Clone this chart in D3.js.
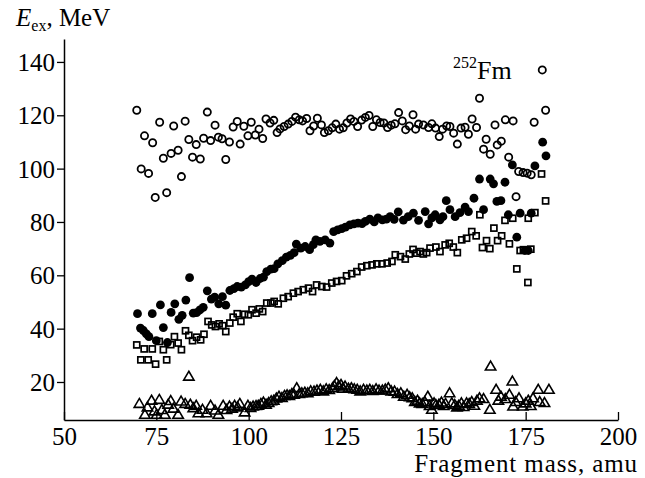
<!DOCTYPE html>
<html>
<head>
<meta charset="utf-8">
<script src="https://cdn.jsdelivr.net/npm/d3@7/dist/d3.min.js"></script>
<style>
  body { margin: 0; background: #fff; }
  svg text { font-family: "Liberation Serif", "DejaVu Serif", serif; fill: #000; }
</style>
</head>
<body>
<div id="chart"></div>
<script>
// open circles
var circMass = [69.7,70.9,71.8,72.9,74,74.7,75.9,76.9,77.8,79,79.7,80.9,81.8,82.8,83.8,84.8,85.8,86.9,87.8,88.8,
  89.7,90.9,91.8,92.8,93.8,94.8,95.8,96.9,97.7,98.7,99.8,100.7,101.8,102.8,103.8,104.7,105.8,106.8,107.7,108.5,
  109.6,110.7,111.7,112.7,113.7,114.6,115.7,116.6,117.6,118.6,119.7,120.5,121.6,122.6,123.6,124.6,125.6,126.6,127.6,128.5,
  129.5,130.6,131.6,132.6,133.6,134.6,135.6,136.6,137.6,138.6,139.6,140.6,141.6,142.5,143.5,144.5,145.2,146,147.3,148.7,
  149.6,150.6,151.6,152.5,153.6,154.5,155.5,156.5,157.5,158.6,159.5,160.5,161.7,162.5,163.6,164.3,165.4,166.7,167.3,168.4,
  169.5,170.4,171.6,172.4,173.1,174.3,175.4,176.5,177.3,179.5,180.4];
var circE = [121.9,99.9,112.3,98.2,109.7,89.2,117.4,103.9,91,105.7,116,106.9,97,117.8,110.9,104.3,109,103.6,111.4,121.2,
  110.5,116.3,111.8,111.2,103.4,110,115.6,117.7,109.2,115.9,112.3,117.4,112.6,114.8,111.3,118.6,117.1,118.1,113.5,114.9,
  115.8,116.7,117.7,119.3,118.3,117.9,118.8,114.2,116,118.9,116.4,113.5,114.2,115.3,116.7,114.8,115.3,117.1,118.6,117.7,
  115.8,118.2,119.2,119.9,115.8,118.3,117.3,117.1,115.4,116.3,116.8,121,117.9,114.6,116,120.2,114.8,116.7,116.4,115.4,
  116.8,115.2,112,114.8,116,115.8,113.3,109.2,115.2,115.5,112.9,118.6,115.4,126.4,107.3,111,105.4,116.4,108.9,110.3,
  118.3,104.3,117.9,89.5,98.9,98.5,98.3,97.7,117.4,137,121.9];

// filled circles
var dotMass = [69.9,70.7,71.5,72.3,73,73.9,75,76.1,76.9,78,79,80,81.1,82,83,84,85,85.9,86.8,87.7,
  88.8,89.9,90.8,91.9,92.9,93.8,94.9,96,96.9,98,99.1,100,100.9,102,103.1,104,104.9,106,106.9,107.9,
  109.1,110.2,111.3,112.3,112.9,114.1,115.3,116.5,117.5,118.2,119.3,120.7,122,123,124.1,125.2,126.2,127.4,128.5,129.6,
  130.7,131.6,132.8,134,135,136.2,137.3,138.3,139.4,140.5,141.9,143.2,144.6,146,147.8,148.7,149.6,150.5,151.8,152.6,
  153.5,154.5,155.9,157.2,158.6,159.5,161,162.5,163.6,165.4,166.3,167.2,168.3,169.4,170.3,171.4,172.6,173.5,174.8,175.7,
  176.5,177.5,179.6,180.5];
var dotE = [45.6,40.2,39.3,38,37,45.6,35.5,48.9,40.4,34.8,46.1,49.3,43.5,45,50.7,59.1,45.8,46,47,48,
  54.2,51.1,51.8,49.3,52,48.8,54.3,55,55.8,55.6,56.4,57.6,58.6,57.3,58.8,59.3,61.4,62.3,62.5,64.3,
  65.5,66.8,67.5,68.5,71.7,70.2,70.8,69.6,71.5,73.3,72.7,73.3,72.1,76.4,77,77.5,78.1,78.9,79.3,79.6,
  79.4,80.2,81.1,80,81.5,80.8,81.1,82,81,83.8,80.7,82,83.3,80.6,83.9,79.3,81.5,82.7,80.8,82,
  88,84.6,82,83.5,85.6,83.9,88.9,96.1,84.6,96.1,94.3,87.7,88,94.9,82.7,101.4,74.3,83.3,69.3,69.3,
  83.3,101,109.9,104.8];

// open squares
var sqMass = [69.7,70.8,71.7,72.8,73.9,74.8,75.8,76.9,77.8,78.9,79.9,80.9,81.8,82.9,83.8,84.8,85.9,87,87.9,89,
  90,91,92,93,93.8,94.9,95.8,96.9,97.9,98.9,99.9,100.9,102,102.9,103.8,104.9,106,106.9,108,109.4,
  110.7,112.1,113.4,114.8,116.2,117.3,118.4,119.8,121.1,122.5,123.8,125.2,126.5,127.9,129.3,130.6,132,133.4,134.7,136.1,
  137.5,138.8,139.7,141.1,142.4,143.5,144.5,145.5,146.4,147.3,148.2,149.1,150.7,151.8,153.2,154.3,155.4,156.5,157.7,159,
  160.4,161.6,162.6,163.3,164.4,165.3,166.4,167.4,168.5,169.4,170.6,171.5,172.6,173.5,174.4,175.6,175.7,176.4,177.5,179.3,
  180.4];
var sqE = [33.9,28.3,32.4,28.3,32.4,26.7,35.2,32.1,28.3,34,37,34.6,32.1,39.2,37.5,35.5,36.8,35.8,37.9,42.7,
  41.4,40.8,41.8,41.1,38.9,42.1,44.3,45.6,42.7,45.4,45.2,47.1,45.8,47.4,46.4,49.6,49.6,50.2,49.3,51.4,
  52,53.3,53.9,54.6,55.2,53.9,56.4,55.8,55.6,57.1,57.7,58,59.8,60.6,61.4,63.1,63.6,63.9,64.3,64.3,
  64.6,65.2,67.7,67,66.1,68,69.7,68.3,68.9,68,68.5,70.2,70.6,68.9,71.4,72,70.6,68.5,73.3,73.9,
  76.4,74.8,82.7,70.4,73,70,77.7,73,74.8,80.6,71.8,81.4,62.4,69.3,69.6,57.3,81.4,69.8,83.5,98,
  87.9];

// open triangles
var triMass = [70.4,71.9,72.6,73.7,74.5,75.1,75.8,76.5,77.3,78.2,78.9,79.6,80.9,81.7,82.8,83.8,84.2,85,85.8,86.4,
  87.5,88.6,89.7,90.9,91.8,93.1,94,94.8,95.5,96.2,97,97.6,98.9,99.8,100.5,101.2,102,102.6,103.3,104,
  104.7,105.4,106.1,106.8,107.5,108.2,109,109.7,110.4,111,111.7,112.3,113,113.7,114.4,115.2,116,116.8,117.7,118.5,
  119.4,120.2,121,121.8,122.7,123.2,123.8,124.4,125,125.5,126.1,127,127.8,128.6,129.4,130.2,131.1,132,132.8,133.6,
  134.5,135.3,136.2,137,137.8,138.6,139.5,140.3,141.2,142,142.9,143.6,144.3,145,145.7,146.3,147,147.7,148.5,149,
  149.6,150.2,150.7,151.5,152.2,152.8,153.3,154.4,155,155.8,156.4,156.9,157.6,158.2,159,159.7,160.4,161.1,161.8,162.5,
  163.6,165.3,165.5,167,167.6,168.3,169.5,170.6,171.4,171.6,172.3,173.2,174.2,175,175.7,176.4,177,178.4,178.8,180.1,
  181.3];
var triE = [11.8,7.7,10.5,13,9,7.7,13.3,9.5,7.7,11.5,12.9,10,7.7,12.7,11.8,22,11.5,10.2,11.1,8.3,
  9.6,8.3,11.1,9.3,7.7,11.1,9.5,10.8,10,11.1,10.5,11.8,8.6,11.1,10.3,10.8,11,11.1,11.8,12.3,
  11.5,12.1,12.8,13,13.8,14.5,14,14.8,15,14.8,15.5,15.2,17.7,15.5,15.8,16,15.8,16.5,16.4,16.8,
  17.1,16.5,17.3,17,17.7,18.5,19.6,18.5,18.9,17.5,18.3,17.5,17.7,17.3,17.1,16.5,17.1,16.8,17.1,16.6,
  17.3,16.8,16.8,17.2,17.7,16.5,16.4,15.5,15.8,14.5,15.2,14.3,13.9,12.5,13,12,11.8,12.5,14.5,11,
  9.6,12,11.4,11.5,12.3,11,11.8,15.8,12,11.4,10.5,11.1,12,10.6,12,11.8,12.5,11.1,13,13.9,
  13.6,9.6,25.8,17.1,13,14.5,13.6,15.2,20.2,10.8,12.5,13.9,10.8,12,13,11,13.9,17.1,12.5,12.1,
  17.1];

var xTicks = [50,75,100,125,150,175,200];
var yTicks = [20,40,60,80,100,120,140];

var serif = '"Liberation Serif", "DejaVu Serif", serif';
var width = 645, height = 478;
var svg = d3.select('#chart').append('svg')
  .attr('width', width)
  .attr('height', height)
  .attr('font-family', serif);

var x = d3.scaleLinear().domain([50, 200]).range([64, 618]);
var y = d3.scaleLinear().domain([5.75, 148.6]).range([420, 39]);

function pairs(ms, vs) {
  return ms.map(function(m, i) { return [m, vs[i]]; });
}

// axes
var xAxis = svg.append('g')
  .attr('transform', 'translate(0,420)')
  .call(d3.axisBottom(x).tickValues(xTicks).tickSizeInner(-8).tickSizeOuter(0))
  .attr('font-family', serif).attr('font-size', 25);
xAxis.select('.domain').attr('stroke-width', 1.5);
xAxis.selectAll('.tick line').attr('stroke-width', 1.3);
xAxis.selectAll('.tick text')
  .attr('y', 25).attr('dy', null);

var yAxis = svg.append('g')
  .attr('transform', 'translate(64,0)')
  .call(d3.axisLeft(y).tickValues(yTicks).tickSizeInner(7).tickSizeOuter(0))
  .attr('font-family', serif).attr('font-size', 25);
yAxis.select('.domain').attr('stroke-width', 1.5);
yAxis.selectAll('.tick line').attr('stroke-width', 1.3);
yAxis.selectAll('.tick text')
  .attr('x', -9).attr('dy', '0.34em');

// markers
var plot = svg.append('g');

plot.selectAll('path.tri').data(pairs(triMass, triE)).enter().append('path')
  .attr('class', 'tri')
  .attr('d', 'M0,-5.4L5.2,3.5L-5.2,3.5Z')
  .attr('transform', function(d) { return 'translate(' + x(d[0]) + ',' + y(d[1]) + ')'; })
  .attr('fill', 'none').attr('stroke', '#000').attr('stroke-width', 1.6);

plot.selectAll('rect.sq').data(pairs(sqMass, sqE)).enter().append('rect')
  .attr('class', 'sq')
  .attr('x', function(d) { return x(d[0]) - 3; })
  .attr('y', function(d) { return y(d[1]) - 3; })
  .attr('width', 6).attr('height', 6)
  .attr('fill', 'none').attr('stroke', '#000').attr('stroke-width', 1.7);

plot.selectAll('circle.open').data(pairs(circMass, circE)).enter().append('circle')
  .attr('class', 'open')
  .attr('cx', function(d) { return x(d[0]); })
  .attr('cy', function(d) { return y(d[1]); })
  .attr('r', 3.6)
  .attr('fill', 'none').attr('stroke', '#000').attr('stroke-width', 1.8);

plot.selectAll('circle.dot').data(pairs(dotMass, dotE)).enter().append('circle')
  .attr('class', 'dot')
  .attr('cx', function(d) { return x(d[0]); })
  .attr('cy', function(d) { return y(d[1]); })
  .attr('r', 4.4)
  .attr('fill', '#000');

// titles
var yt = svg.append('text').attr('x', 16).attr('y', 26).attr('font-size', 25);
yt.append('tspan').attr('font-style', 'italic').text('E');
yt.append('tspan').attr('dy', 5).attr('font-size', 16).text('ex');
yt.append('tspan').attr('dy', -5).text(', MeV');

svg.append('text')
  .attr('x', 638).attr('y', 472)
  .attr('text-anchor', 'end')
  .attr('font-size', 25)
  .attr('letter-spacing', 0.9)
  .text('Fragment mass, amu');

var fm = svg.append('text').attr('x', 453).attr('y', 79).attr('font-size', 26);
fm.append('tspan').attr('dy', -11).attr('font-size', 16).text('252');
fm.append('tspan').attr('dy', 11).text('Fm');
</script>
</body>
</html>
